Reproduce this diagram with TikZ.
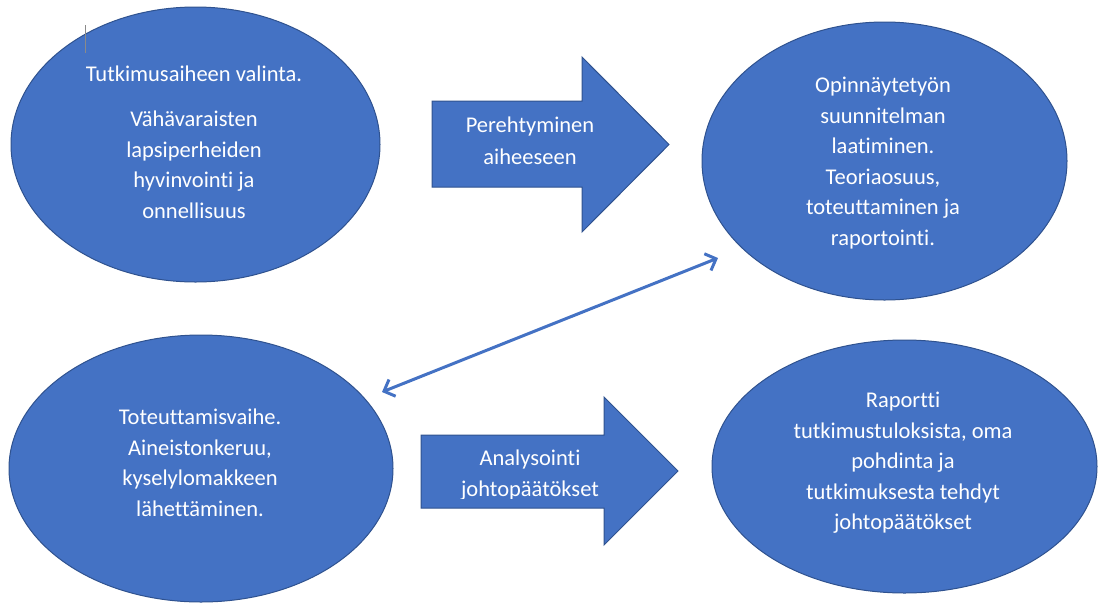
\documentclass[tikz,border=0pt]{standalone}
\usepackage{fontspec}
\setmainfont{Carlito}[Ligatures=NoCommon]
\usetikzlibrary{arrows.meta,shapes.geometric}
\definecolor{obl}{HTML}{4472C4}
\definecolor{obd}{HTML}{2F528F}
\definecolor{cursorgray}{HTML}{8A8A8A}
\begin{document}
\begin{tikzpicture}[x=1pt,y=-1pt,
  oval/.style={ellipse, draw=obd, line width=1pt, fill=obl, inner sep=0pt},
  txt/.style={text=white, align=center, font=\fontsize{22.5}{30.5}\selectfont, inner sep=0pt},
  barrow/.style={draw=obd, line width=1pt, fill=obl, line join=miter},
  link/.style={draw=obl, line width=3pt, {Straight Barb[length=9pt,width=18pt]}-{Straight Barb[length=9pt,width=18pt]}}]
\useasboundingbox (0,0) rectangle (1098,606);
% ellipses
\node[oval, minimum width=369pt, minimum height=275pt] (e1) at (195.5,144.5) {};
\node[oval, minimum width=365pt, minimum height=278pt] (e2) at (884.5,161) {};
\node[oval, minimum width=384pt, minimum height=267pt] (e3) at (201,468.5) {};
\node[oval, minimum width=385pt, minimum height=253pt] (e4) at (904.5,466.5) {};
% block arrows
\draw[barrow] (432,101) -- (582,101) -- (582,57) -- (669,144.5) -- (582,232) -- (582,187) -- (432,187) -- cycle;
\draw[barrow] (421,435) -- (604,435) -- (604,397) -- (678,471) -- (604,545) -- (604,508) -- (421,508) -- cycle;
% texts
\node[txt] (t1) at (194,142) {Tutkimusaiheen valinta.\\[15pt]Vähävaraisten\\lapsiperheiden\\hyvinvointi ja\\onnellisuus};
\node[txt] (t2) at (883,163) {Opinnäytetyön\\suunnitelman\\laatiminen.\\Teoriaosuus,\\toteuttaminen ja\\raportointi.};
\node[txt] (t3) at (200,463) {Toteuttamisvaihe.\\Aineistonkeruu,\\kyselylomakkeen\\lähettäminen.};
\node[txt] (t4) at (903,463) {Raportti\\tutkimustuloksista, oma\\pohdinta ja\\tutkimuksesta tehdyt\\johtopäätökset};
\node[txt, font=\fontsize{22.5}{32}\selectfont] (a1) at (530,141) {Perehtyminen\\aiheeseen};
\begin{scope}
\clip (421,435) rectangle (604,498.5);
\node[txt] (a2) at (530,475) {Analysointi\\johtopäätökset};
\end{scope}
% double arrow
\coordinate (p3) at (382,392);
\coordinate (p2) at (718,258);
\draw[link] (p3) -- (p2);
% text cursor mark
\coordinate (c1) at (85,25);
\coordinate (c2) at (85,53);
\draw[cursorgray, line width=1pt] (c1) -- (c2);
\end{tikzpicture}
\end{document}
